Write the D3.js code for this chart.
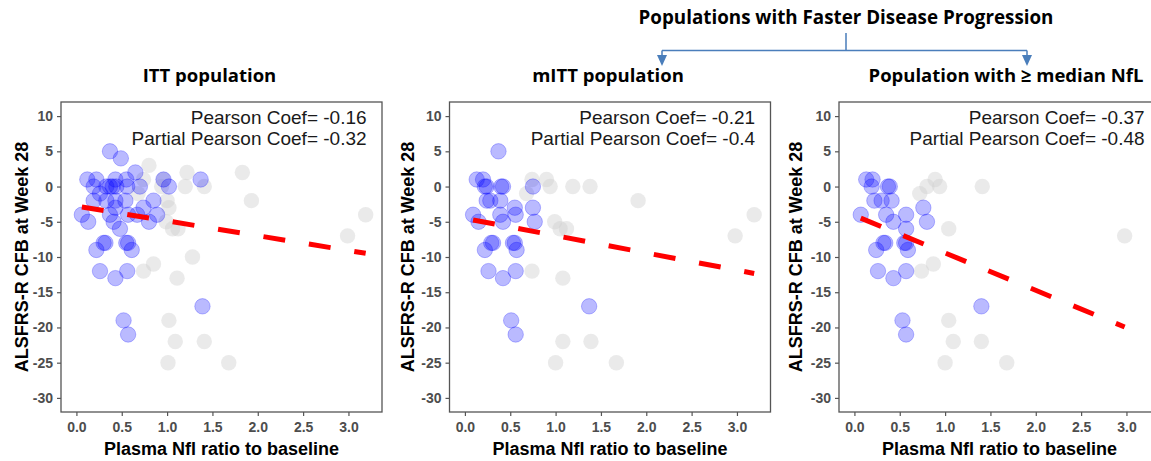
<!DOCTYPE html>
<html lang="en">
<head>
  <meta charset="UTF-8">
  <title>NfL vs ALSFRS-R</title>
  <style>
    body { margin: 0; background: #fff; }
    svg { display: block; }
  </style>
  <script src="https://cdn.jsdelivr.net/npm/d3@7/dist/d3.min.js"></script>
</head>
<body>
<script>
  // ---- data ----
  const panelTitles = ["ITT population", "mITT population", "Population with \u2265 median NfL"];
  const pearsonCoef = ["-0.16", "-0.21", "-0.37"];
  const partialCoef = ["-0.32", "-0.4", "-0.48"];
  // fitted line: y = intercept + slope * x
  const fitIntercept = [-2.78, -4.52, -4.11];
  const fitSlope = [-2.10, -2.45, -5.31];

  const xTicks = [0, 0.5, 1, 1.5, 2, 2.5, 3];
  const yTicks = [-30, -25, -20, -15, -10, -5, 0, 5, 10];

  // [nfl ratio, ALSFRS-R change]
  const ittBlue = [
    [0.37, 5], [0.49, 4], [0.65, 2],
    [0.12, 1], [0.22, 1], [0.43, 1], [0.55, 1], [0.96, 1], [1.37, 1],
    [0.19, 0], [0.33, 0], [0.37, 0], [0.40, 0], [0.44, 0], [0.56, 0], [0.70, 0], [1.02, 0],
    [0.26, -1],
    [0.19, -2], [0.33, -2], [0.43, -2], [0.54, -2], [0.85, -2],
    [0.43, -3], [0.74, -3],
    [0.06, -4], [0.37, -4], [0.57, -4], [0.67, -4], [0.89, -4],
    [0.13, -5], [0.41, -5], [0.80, -5],
    [0.48, -6],
    [0.30, -8], [0.32, -8], [0.55, -8], [0.57, -8],
    [0.22, -9], [0.61, -9],
    [0.26, -12], [0.56, -12],
    [0.43, -13],
    [1.39, -17], [0.52, -19], [0.57, -21]
  ];
  const ittGrey = [
    [0.80, 3], [1.22, 2], [1.83, 2], [0.74, 1], [0.96, 1], [0.94, 0], [1.20, 0], [1.41, 0],
    [0.68, -1], [1.00, -2], [1.93, -2], [1.02, -3], [0.99, -5], [1.06, -6], [1.12, -6],
    [2.99, -7], [3.19, -4], [1.28, -10], [0.85, -11], [0.74, -12], [1.11, -13],
    [1.02, -19], [1.09, -22], [1.41, -22], [1.01, -25], [1.68, -25]
  ];
  const mittBlue = [
    [0.37, 5],
    [0.13, 1], [0.20, 1], [0.22, 0], [0.24, 0], [0.40, 0], [0.42, 0], [0.75, 0],
    [0.24, -2], [0.28, -2], [0.39, -2],
    [0.55, -3], [0.75, -3],
    [0.09, -4], [0.39, -4], [0.56, -4],
    [0.15, -5], [0.42, -5], [0.77, -5],
    [0.31, -8], [0.29, -8], [0.53, -8], [0.55, -8],
    [0.22, -9], [0.57, -9],
    [0.26, -12], [0.56, -12], [0.42, -13],
    [1.37, -17], [0.51, -19], [0.56, -21]
  ];
  const mittGrey = [
    [0.74, 1], [0.90, 1], [0.94, 0], [1.19, 0], [1.38, 0], [0.68, -1], [1.91, -2],
    [0.99, -5], [1.05, -6], [1.12, -6], [2.98, -7], [3.19, -4],
    [0.74, -12], [1.08, -13], [1.08, -22], [1.39, -22], [1.00, -25], [1.67, -25]
  ];
  const nflBlue = [
    [0.13, 1], [0.20, 1], [0.19, 0], [0.37, 0], [0.39, 0],
    [0.22, -2], [0.30, -2], [0.41, -2],
    [0.76, -3],
    [0.07, -4], [0.35, -4], [0.57, -4],
    [0.43, -5], [0.80, -5],
    [0.57, -6],
    [0.32, -8], [0.34, -8], [0.55, -8], [0.57, -8],
    [0.24, -9], [0.59, -9],
    [0.26, -12], [0.57, -12], [0.43, -13],
    [1.40, -17], [0.53, -19], [0.57, -21]
  ];
  const nflGrey = [
    [0.89, 1], [0.80, 0], [0.94, 0], [1.41, 0], [0.72, -1], [1.04, -6], [2.98, -7],
    [0.87, -11], [0.74, -12], [1.04, -19], [1.09, -22], [1.40, -22], [1.00, -25], [1.68, -25]
  ];

  const bluePoints = [ittBlue, mittBlue, nflBlue];
  const greyPoints = [ittGrey, mittGrey, nflGrey];

  // ---- layout ----
  const width = 1151, height = 461;
  const panelLeft = [61, 449.5, 839];
  const yLabelX = [22, 408, 796];
  const titleX = [209.5, 608, 1006];
  const boxW = 321, boxTop = 102, boxBottom = 412;
  const r = 7.7;
  const axisGrey = "#555";
  const titleFont = "'Open Sans', sans-serif";

  const svg = d3.select("body").append("svg")
    .attr("width", width)
    .attr("height", height);

  // top heading + bracket
  svg.append("text")
    .attr("x", 846).attr("y", 24)
    .attr("text-anchor", "middle")
    .style("font-family", titleFont)
    .style("font-weight", "bold")
    .style("font-size", "18.8px")
    .text("Populations with Faster Disease Progression");

  const bracketColor = "#4a7ebb";
  svg.append("path")
    .attr("d", "M846,33V50.5M662,50.5H1027M662,50.5V56M1027,50.5V56")
    .attr("fill", "none")
    .attr("stroke", bracketColor)
    .attr("stroke-width", 1.5);
  [662, 1027].forEach(ax => {
    svg.append("path")
      .attr("d", `M${ax - 5},55L${ax + 5},55L${ax},66Z`)
      .attr("fill", bracketColor);
  });

  panelTitles.forEach((title, i) => {
    const left = panelLeft[i];
    const x = d3.scaleLinear().domain([-0.17, 3.37]).range([left, left + boxW]);
    const y = d3.scaleLinear().domain([-32, 12]).range([boxBottom, boxTop]);
    const g = svg.append("g");

    g.append("text")
      .attr("x", titleX[i]).attr("y", 82)
      .attr("text-anchor", "middle")
      .style("font-family", titleFont)
      .style("font-weight", "bold")
      .style("font-size", "18.5px")
      .text(title);

    // points
    g.append("g").selectAll("circle")
      .data(greyPoints[i])
      .enter().append("circle")
      .attr("cx", d => x(d[0]))
      .attr("cy", d => y(d[1]))
      .attr("r", r)
      .attr("fill", "#d0d0d0")
      .attr("fill-opacity", 0.45);

    g.append("g").selectAll("circle")
      .data(bluePoints[i])
      .enter().append("circle")
      .attr("cx", d => x(d[0]))
      .attr("cy", d => y(d[1]))
      .attr("r", r)
      .attr("fill", "blue")
      .attr("fill-opacity", 0.27)
      .attr("stroke", "blue")
      .attr("stroke-opacity", 0.25)
      .attr("stroke-width", 1);

    // regression line over the data range
    const allX = bluePoints[i].concat(greyPoints[i]).map(d => d[0]);
    const ext = d3.extent(allX);
    const line = d3.line().x(d => x(d)).y(d => y(fitIntercept[i] + fitSlope[i] * d));
    g.append("path")
      .attr("d", line(ext))
      .attr("fill", "none")
      .attr("stroke", "red")
      .attr("stroke-width", 5)
      .attr("stroke-dasharray", "22,24");

    // annotation
    [["Pearson Coef= " + pearsonCoef[i], 10], ["Partial Pearson Coef= " + partialCoef[i], 7]].forEach(a => {
      g.append("text")
        .attr("x", x(3.2)).attr("y", y(a[1]) + 8)
        .attr("text-anchor", "end")
        .style("font-family", "'Liberation Sans', Arial, sans-serif")
        .style("font-size", "19px")
        .style("fill", "#1a1a1a")
        .text(a[0]);
    });

    // frame
    g.append("rect")
      .attr("x", left).attr("y", boxTop)
      .attr("width", boxW).attr("height", boxBottom - boxTop)
      .attr("fill", "none")
      .attr("stroke", axisGrey)
      .attr("stroke-width", 1.3);

    const xAxis = g.append("g")
      .attr("transform", `translate(0,${boxBottom})`)
      .call(d3.axisBottom(x).tickValues(xTicks).tickFormat(d => d.toFixed(1)).tickSize(4).tickPadding(6));
    const yAxis = g.append("g")
      .attr("transform", `translate(${left},0)`)
      .call(d3.axisLeft(y).tickValues(yTicks).tickFormat(d => String(d)).tickSize(4).tickPadding(4));
    [xAxis, yAxis].forEach(ax => {
      ax.select(".domain").remove();
      ax.selectAll("line").attr("stroke", axisGrey).attr("stroke-width", 1.2);
      ax.selectAll("text")
        .style("font-family", "'Liberation Sans', Arial, sans-serif")
        .style("font-weight", "bold")
        .style("font-size", "14px")
        .style("fill", "#4d4d4d");
    });

    g.append("text")
      .attr("x", left + boxW / 2).attr("y", 455)
      .attr("text-anchor", "middle")
      .style("font-family", "'Liberation Sans', Arial, sans-serif")
      .style("font-weight", "bold")
      .style("font-size", "18px")
      .text("Plasma Nfl ratio to baseline");

    g.append("text")
      .attr("transform", `translate(${yLabelX[i]},${(boxTop + boxBottom) / 2}) rotate(-90)`)
      .attr("dy", "0.35em")
      .attr("text-anchor", "middle")
      .style("font-family", "'Liberation Sans', Arial, sans-serif")
      .style("font-weight", "bold")
      .style("font-size", "18px")
      .text("ALSFRS-R CFB at Week 28");
  });
</script>
</body>
</html>
